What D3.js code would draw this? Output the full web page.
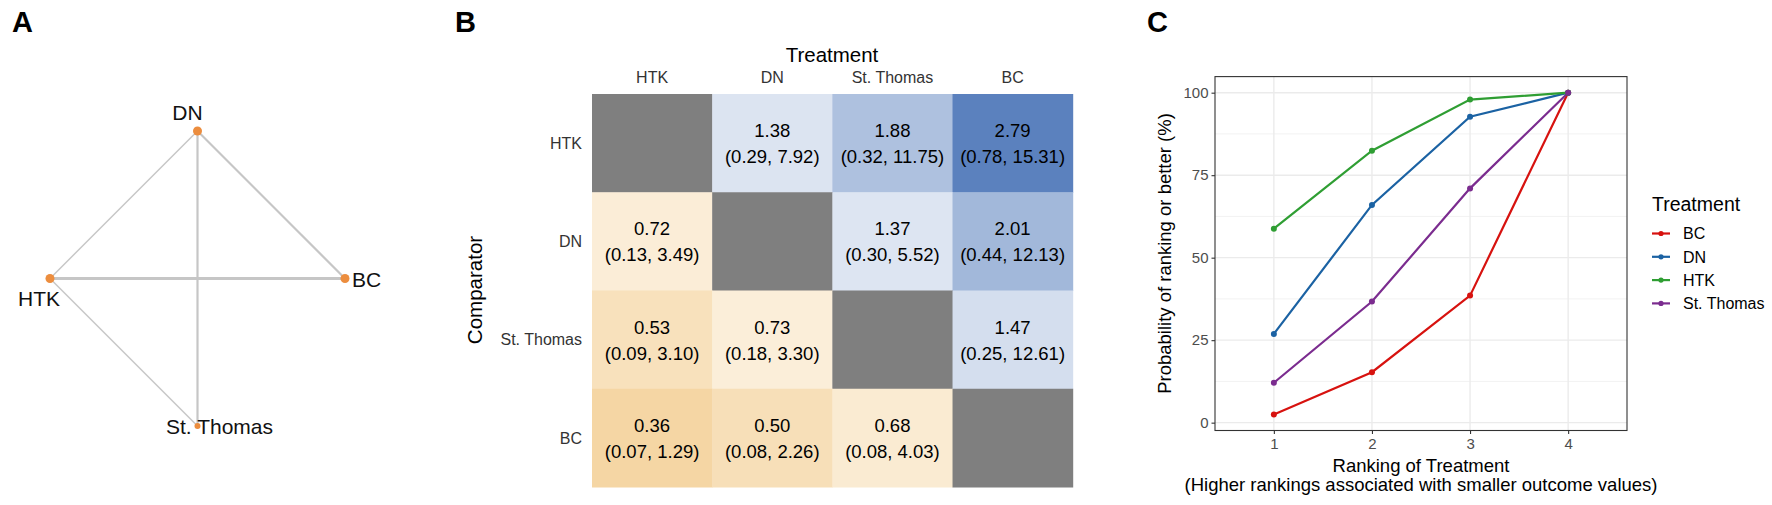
<!DOCTYPE html>
<html>
	<head>
		<meta charset="utf-8">
		<title></title>
		<style type="text/css">
			body{ margin:0; background:#fff; }
			svg text{ font-family: "Liberation Sans", Arial, sans-serif; }
		</style>
	</head>
	<body>
		<div id="chart"></div>
		<script src="https://cdn.jsdelivr.net/npm/d3@7"></script>
		<script>
		// ---- panel A : network
		let netNodes=["DN","HTK","BC","St. Thomas"]
		let netLayoutX=[0,-1,1,0]
		let netLayoutY=[1,0,0,-1]
		let netNodeSize=[4.5,4.5,4.5,3]
		let edgeFrom=["HTK","HTK","HTK","DN","DN"]
		let edgeTo=["DN","BC","St. Thomas","BC","St. Thomas"]
		let edgeStudies=[1,3,1,2,2]

		// ---- panel B : league table
		let treatments=["HTK","DN","St. Thomas","BC"]
		let comparators=["HTK","DN","St. Thomas","BC"]
		let orValue=[[null,1.38,1.88,2.79],[0.72,null,1.37,2.01],[0.53,0.73,null,1.47],[0.36,0.50,0.68,null]]
		let ciLow=[[null,0.29,0.32,0.78],[0.13,null,0.30,0.44],[0.09,0.18,null,0.25],[0.07,0.08,0.08,null]]
		let ciHigh=[[null,7.92,11.75,15.31],[3.49,null,5.52,12.13],[3.10,3.30,null,12.61],[1.29,2.26,4.03,null]]

		// ---- panel C : cumulative ranking
		let ranks=[1,2,3,4]
		let seriesNames=["BC","DN","HTK","St. Thomas"]
		let probBC=[2.5,15.3,38.5,100]
		let probDN=[26.9,66.0,92.7,100]
		let probHTK=[58.8,82.4,97.9,100]
		let probStThomas=[12.1,36.7,71.0,100]
		let yTicks=[0,25,50,75,100]
		let seriesColors=["#d7120f","#1b62a3","#2f9e33","#7b2c8f"]

		let w=1772, h=505
		let svg=d3.select("#chart").append("svg")
			.attr("width",w)
			.attr("height",h)

		// panel letters
		svg.selectAll("text.letter")
			.data([["A",12],["B",455],["C",1147]])
			.enter()
			.append("text")
			.attr("class","letter")
			.attr("x",function(d){ return d[1]; })
			.attr("y",32)
			.attr("font-size","29px")
			.attr("font-weight","bold")
			.text(function(d){ return d[0]; })

		// ================= A =================
		let ax=d3.scaleLinear().domain([-1,1]).range([50,345])
		let ay=d3.scaleLinear().domain([-1,1]).range([426,131])
		let ew=d3.scaleLinear().domain([1,3]).range([1.4,3])
		let pos={}
		netNodes.forEach(function(n,i){ pos[n]=[ax(netLayoutX[i]),ay(netLayoutY[i])]; })

		svg.append("g").selectAll("line")
			.data(edgeFrom)
			.enter()
			.append("line")
			.attr("x1",function(d){ return pos[d][0]; })
			.attr("y1",function(d){ return pos[d][1]; })
			.attr("x2",function(d,i){ return pos[edgeTo[i]][0]; })
			.attr("y2",function(d,i){ return pos[edgeTo[i]][1]; })
			.attr("stroke","#c6c6c6")
			.attr("stroke-width",function(d,i){ return ew(edgeStudies[i]); })

		svg.append("g").selectAll("circle")
			.data(netNodes)
			.enter()
			.append("circle")
			.attr("cx",function(d){ return pos[d][0]; })
			.attr("cy",function(d){ return pos[d][1]; })
			.attr("r",function(d,i){ return netNodeSize[i]; })
			.attr("fill","#ec8d3e")

		// label offsets per node (top, below-left, right, on node)
		let labOff={"DN":[-10,-11,"middle"],"HTK":[-11,27,"middle"],"BC":[7,8,"start"],"St. Thomas":[22,8,"middle"]}
		svg.append("g").selectAll("text")
			.data(netNodes)
			.enter()
			.append("text")
			.attr("x",function(d){ return pos[d][0]+labOff[d][0]; })
			.attr("y",function(d){ return pos[d][1]+labOff[d][1]; })
			.attr("text-anchor",function(d){ return labOff[d][2]; })
			.attr("font-size","21px")
			.attr("fill","#111")
			.text(function(d){ return d; })

		// ================= B =================
		let bx=d3.scaleBand().domain(treatments).range([592,1072.7])
		let by=d3.scaleBand().domain(comparators).range([94,487])
		let fill=d3.scaleLinear().domain([0.36,1,2.79]).range(["#f5d6a4","#ffffff","#5b81be"])

		let cells=[]
		comparators.forEach(function(c,i){
			treatments.forEach(function(t,j){
				cells.push({row:c,col:t,v:orValue[i][j],lo:ciLow[i][j],hi:ciHigh[i][j]})
			})
		})
		let gB=svg.append("g")
		gB.selectAll("rect")
			.data(cells)
			.enter()
			.append("rect")
			.attr("x",function(d){ return bx(d.col); })
			.attr("y",function(d){ return by(d.row); })
			.attr("width",bx.bandwidth()+0.5)
			.attr("height",by.bandwidth()+0.5)
			.attr("fill",function(d){ return d.v==null ? "#7f7f7f" : fill(d.v); })

		let filled=cells.filter(function(d){ return d.v!=null; })
		gB.selectAll("text.val")
			.data(filled)
			.enter()
			.append("text")
			.attr("class","val")
			.attr("x",function(d){ return bx(d.col)+bx.bandwidth()/2; })
			.attr("y",function(d){ return by(d.row)+43; })
			.attr("text-anchor","middle")
			.attr("font-size","18.5px")
			.text(function(d){ return d.v.toFixed(2); })
		gB.selectAll("text.ci")
			.data(filled)
			.enter()
			.append("text")
			.attr("class","ci")
			.attr("x",function(d){ return bx(d.col)+bx.bandwidth()/2; })
			.attr("y",function(d){ return by(d.row)+69; })
			.attr("text-anchor","middle")
			.attr("font-size","18.5px")
			.text(function(d){ return "("+d.lo.toFixed(2)+", "+d.hi.toFixed(2)+")"; })

		gB.selectAll("text.col")
			.data(treatments)
			.enter()
			.append("text")
			.attr("class","col")
			.attr("x",function(d){ return bx(d)+bx.bandwidth()/2; })
			.attr("y",83)
			.attr("text-anchor","middle")
			.attr("font-size","16px")
			.attr("fill","#333")
			.text(function(d){ return d; })
		gB.selectAll("text.row")
			.data(comparators)
			.enter()
			.append("text")
			.attr("class","row")
			.attr("x",582)
			.attr("y",function(d){ return by(d)+by.bandwidth()/2; })
			.attr("dy","0.36em")
			.attr("text-anchor","end")
			.attr("font-size","16px")
			.attr("fill","#333")
			.text(function(d){ return d; })
		gB.append("text")
			.attr("x",832)
			.attr("y",61.5)
			.attr("text-anchor","middle")
			.attr("font-size","20.5px")
			.text("Treatment")
		gB.append("text")
			.attr("transform","translate(482,290) rotate(-90)")
			.attr("text-anchor","middle")
			.attr("font-size","20.5px")
			.text("Comparator")

		// ================= C =================
		let cx=d3.scaleLinear().domain([0.4,4.6]).range([1215,1627])
		let cy=d3.scaleLinear().domain([-2.375,104.875]).range([430.5,76.6])
		let gC=svg.append("g")

		// grid
		gC.selectAll("line.minor")
			.data([12.5,37.5,62.5,87.5])
			.enter()
			.append("line")
			.attr("x1",1215).attr("x2",1627)
			.attr("y1",function(d){ return cy(d); })
			.attr("y2",function(d){ return cy(d); })
			.attr("stroke","#f2f2f2")
			.attr("stroke-width",1)
		gC.selectAll("line.hmajor")
			.data(yTicks)
			.enter()
			.append("line")
			.attr("x1",1215).attr("x2",1627)
			.attr("y1",function(d){ return cy(d); })
			.attr("y2",function(d){ return cy(d); })
			.attr("stroke","#ebebeb")
			.attr("stroke-width",1.4)
		gC.selectAll("line.vmajor")
			.data(ranks)
			.enter()
			.append("line")
			.attr("y1",76.6).attr("y2",430.5)
			.attr("x1",function(d){ return cx(d); })
			.attr("x2",function(d){ return cx(d); })
			.attr("stroke","#ebebeb")
			.attr("stroke-width",1.4)

		let yAxis=d3.axisLeft(cy).tickValues(yTicks).tickSize(3.5).tickPadding(3)
		let xAxis=d3.axisBottom(cx).tickValues(ranks).tickFormat(d3.format("d")).tickSize(3.5).tickPadding(4)
		let gy=gC.append("g").attr("transform","translate(1215,0)").call(yAxis)
		let gx=gC.append("g").attr("transform","translate(0,430.5)").call(xAxis)
		;[gy,gx].forEach(function(g){
			g.select(".domain").remove()
			g.selectAll(".tick line").attr("stroke","#333").attr("stroke-width",1.1)
			g.selectAll(".tick text").attr("fill","#4d4d4d").attr("font-size","15px")
				.attr("font-family","Liberation Sans, Arial, sans-serif")
		})

		let allProbs=[probBC,probDN,probHTK,probStThomas]
		let series=seriesNames.map(function(n,i){
			return {name:n,color:seriesColors[i],pts:ranks.map(function(r,k){ return [r,allProbs[i][k]]; })}
		})
		let line=d3.line()
			.x(function(d){ return cx(d[0]); })
			.y(function(d){ return cy(d[1]); })
		gC.selectAll("path.series")
			.data(series)
			.enter()
			.append("path")
			.attr("class","series")
			.attr("d",function(d){ return line(d.pts); })
			.attr("fill","none")
			.attr("stroke",function(d){ return d.color; })
			.attr("stroke-width",2.2)
		series.forEach(function(s){
			gC.append("g").selectAll("circle")
				.data(s.pts)
				.enter()
				.append("circle")
				.attr("cx",function(d){ return cx(d[0]); })
				.attr("cy",function(d){ return cy(d[1]); })
				.attr("r",3)
				.attr("fill",s.color)
		})

		// panel border
		gC.append("rect")
			.attr("x",1215).attr("y",76.6)
			.attr("width",412).attr("height",353.9)
			.attr("fill","none")
			.attr("stroke","#333")
			.attr("stroke-width",1.1)

		gC.append("text")
			.attr("transform","translate(1171,253.5) rotate(-90)")
			.attr("text-anchor","middle")
			.attr("font-size","18.5px")
			.text("Probability of ranking or better (%)")
		gC.append("text")
			.attr("x",1421).attr("y",471.5)
			.attr("text-anchor","middle")
			.attr("font-size","18.5px")
			.text("Ranking of Treatment")
		gC.append("text")
			.attr("x",1421).attr("y",491)
			.attr("text-anchor","middle")
			.attr("font-size","18.5px")
			.text("(Higher rankings associated with smaller outcome values)")

		// legend
		let lg=gC.append("g")
		lg.append("text")
			.attr("x",1652).attr("y",210.5)
			.attr("font-size","19.5px")
			.text("Treatment")
		let items=lg.selectAll("g.item")
			.data(series)
			.enter()
			.append("g")
			.attr("transform",function(d,i){ return "translate(1652,"+(233.5+i*23.3)+")"; })
		items.append("line")
			.attr("x1",0).attr("x2",18)
			.attr("stroke",function(d){ return d.color; })
			.attr("stroke-width",2.2)
		items.append("circle")
			.attr("cx",9).attr("r",2.6)
			.attr("fill",function(d){ return d.color; })
		items.append("text")
			.attr("x",31)
			.attr("dy","0.36em")
			.attr("font-size","16px")
			.text(function(d){ return d.name; })
		</script>
	</body>
</html>
